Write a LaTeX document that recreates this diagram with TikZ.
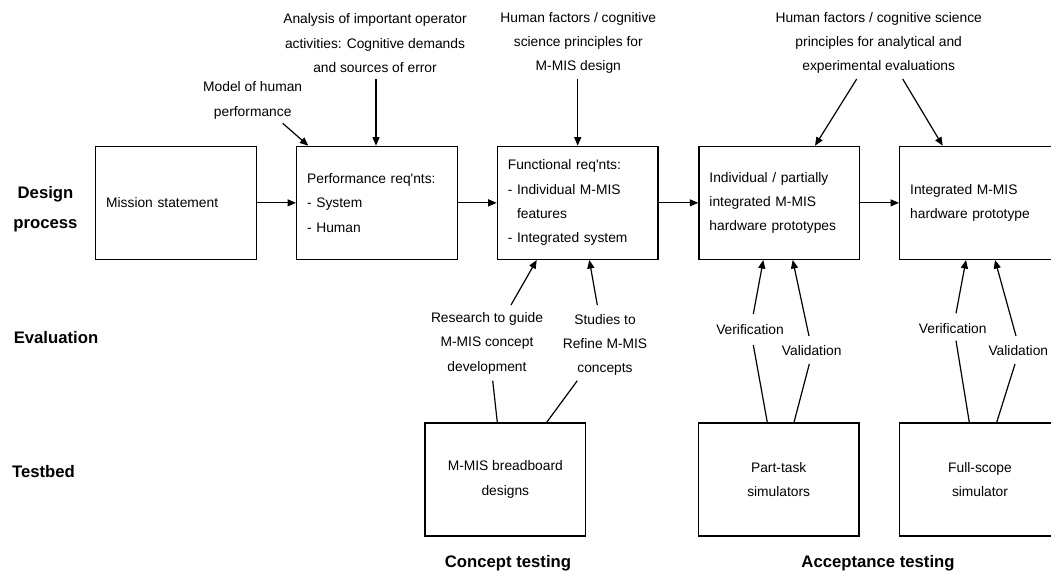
\documentclass[tikz,border=0pt]{standalone}
\usepackage{fontspec}
\setmainfont{Liberation Sans}
\usetikzlibrary{arrows.meta}
\begin{document}
\begin{tikzpicture}[x=1pt,y=-1pt,
  txt/.style={font=\fontsize{13.8}{24.3}\selectfont},
  box/.style={txt, draw, line width=1.3pt, rectangle, anchor=north west,
    minimum width=160.7pt, minimum height=113pt,
    text width=139.7pt, align=left, inner xsep=10.5pt, inner ysep=0pt},
  tbox/.style={txt, draw, line width=1.3pt, rectangle, anchor=north west,
    minimum width=160.7pt, minimum height=113pt, align=center, inner sep=0pt},
  lab/.style={txt, align=center, inner sep=0pt},
  head/.style={font=\fontsize{16.7}{30.6}\selectfont\bfseries, align=center, inner sep=0pt},
  arr/.style={-{Triangle[length=8.5pt,width=7pt]}, line width=1.2pt},
  link/.style={line width=1.2pt}]
\clip (0,0) rectangle (1051,574);
\useasboundingbox (0,0) rectangle (1051,574);

% row headings
\node[head] (hdesign) at (45.5,209) {Design\\process};
\node[head] (heval) at (56,337.5) {Evaluation};
\node[head] (htest) at (43.5,471.5) {Testbed};
\node[head] (hconcept) at (508,563) {Concept testing};
\node[head] (haccept) at (878,563) {Acceptance testing};

% design process boxes
\node[box] (mission) at (95,145.7) {Mission statement};
\node[box] (perf) at (296,145.7) {Performance req\textquotesingle nts:\\- System\\- Human};
\node[box] (func) at (496.7,145.7) {Functional req\textquotesingle nts:\\- Individual M-MIS\\\phantom{- }features\\- Integrated system};
\node[box] (indiv) at (698.3,145.7) {Individual / partially\\integrated M-MIS\\hardware prototypes};
\node[box] (integ) at (899,145.7) {Integrated M-MIS\\hardware prototype};

% testbed boxes
\node[tbox] (bread) at (424.3,422.3) {M-MIS breadboard\\designs};
\node[tbox] (part) at (697.7,422.3) {Part-task\\simulators};
\node[tbox] (full) at (899,422.3) {Full-scope\\simulator};

% inputs from above
\node[lab] (model) at (252.7,100.5) {Model of human\\performance};
\node[lab] (analysis) at (375,43.2) {Analysis of important operator\\activities: Cognitive demands\\and sources of error};
\node[lab] (hfa) at (578.3,43) {Human factors / cognitive\\science principles for\\M-MIS design};
\node[lab] (hfb) at (878.7,43) {Human factors / cognitive science\\principles for analytical and\\experimental evaluations};

% evaluation labels
\node[lab] (research) at (487,343.4) {Research to guide\\M-MIS concept\\development};
\node[lab] (studies) at (605,345) {Studies to\\Refine M-MIS\\concepts};
\node[lab] (verA) at (750,329.3) {Verification};
\node[lab] (valA) at (811.7,351) {Validation};
\node[lab] (verB) at (952.7,328.7) {Verification};
\node[lab] (valB) at (1018.3,350.3) {Validation};

% main flow
\draw[arr] (mission) -- (perf);
\draw[arr] (perf) -- (func);
\draw[arr] (func) -- (indiv);
\draw[arr] (indiv) -- (integ);

% arrows from the input texts
\coordinate (m0) at (282.7,123.3);
\coordinate (a0) at (376,79);
\coordinate (h0) at (577.7,79);
\coordinate (hb1) at (856.7,79);
\coordinate (hb2) at (902.7,79);
\draw[arr] (m0) -- ([xshift=12.3pt]perf.north west);
\draw[arr] (a0) -- (a0 |- perf.north);
\draw[arr] (h0) -- (h0 |- func.north);
\draw[arr] (hb1) -- ([xshift=116.7pt]indiv.north west);
\draw[arr] (hb2) -- ([xshift=43.7pt]integ.north west);

% concept testing links
\coordinate (r0) at (511,305);
\coordinate (s0) at (597.3,305);
\coordinate (r1) at (492.7,380.7);
\coordinate (s1) at (577.3,380.7);
\draw[arr] (r0) -- ([xshift=40pt]func.south west);
\draw[arr] (s0) -- ([xshift=92.6pt]func.south west);
\draw[link] ([xshift=73pt]bread.north west) -- (r1);
\draw[link] ([xshift=122.4pt]bread.north west) -- (s1);

% acceptance testing links
\coordinate (va0) at (753.3,314);
\coordinate (va1) at (753.3,345);
\coordinate (la0) at (809,336);
\coordinate (la1) at (809.3,364);
\draw[link] ([xshift=69.6pt]part.north west) -- (va1);
\draw[arr] (va0) -- ([xshift=65pt]indiv.south west);
\draw[link] ([xshift=96.3pt]part.north west) -- (la1);
\draw[arr] (la0) -- ([xshift=94.4pt]indiv.south west);

\coordinate (vb0) at (956,313.3);
\coordinate (vb1) at (956,340.7);
\coordinate (lb0) at (1016,336);
\coordinate (lb1) at (1015,364);
\draw[link] ([xshift=70.3pt]full.north west) -- (vb1);
\draw[arr] (vb0) -- ([xshift=67pt]integ.south west);
\draw[link] ([xshift=97.7pt]full.north west) -- (lb1);
\draw[arr] (lb0) -- ([xshift=96pt]integ.south west);
\end{tikzpicture}
\end{document}
